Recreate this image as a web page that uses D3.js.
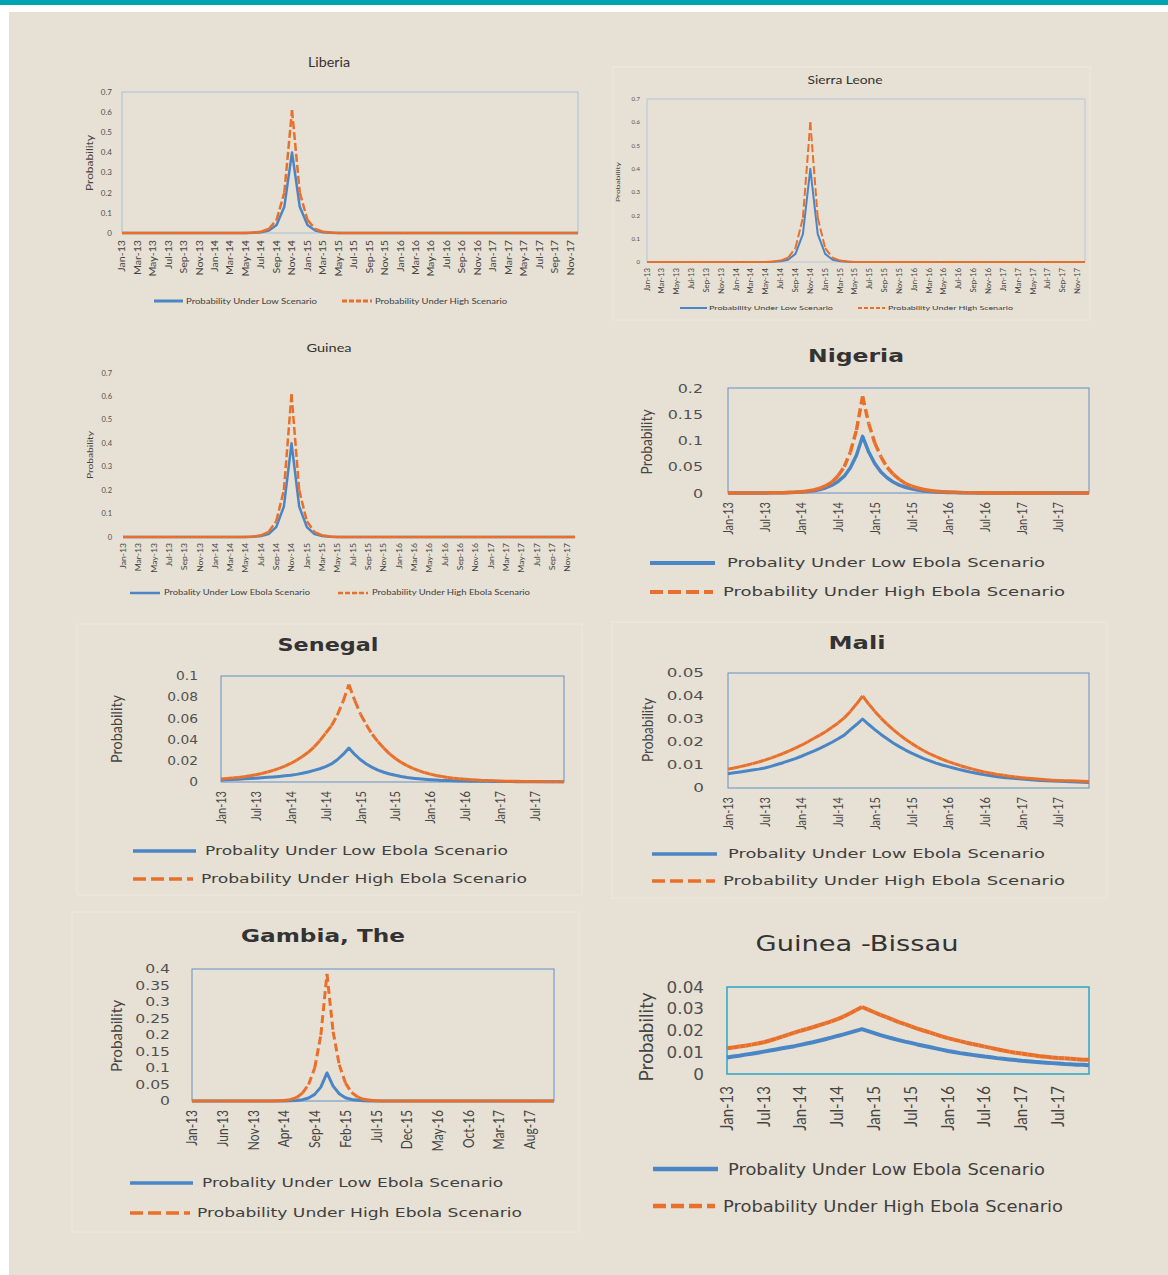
<!DOCTYPE html>
<html><head><meta charset="utf-8">
<script src="https://cdn.jsdelivr.net/npm/d3@7"></script>
<style>html,body{margin:0;padding:0;background:#fff;} svg{display:block}</style>
</head><body><svg id="chart" width="1168" height="1275"></svg>
<script>
// ---------- categories ----------
const months = [
 "Jan-13","Feb-13","Mar-13","Apr-13","May-13","Jun-13","Jul-13","Aug-13","Sep-13","Oct-13","Nov-13","Dec-13",
 "Jan-14","Feb-14","Mar-14","Apr-14","May-14","Jun-14","Jul-14","Aug-14","Sep-14","Oct-14","Nov-14","Dec-14",
 "Jan-15","Feb-15","Mar-15","Apr-15","May-15","Jun-15","Jul-15","Aug-15","Sep-15","Oct-15","Nov-15","Dec-15",
 "Jan-16","Feb-16","Mar-16","Apr-16","May-16","Jun-16","Jul-16","Aug-16","Sep-16","Oct-16","Nov-16","Dec-16",
 "Jan-17","Feb-17","Mar-17","Apr-17","May-17","Jun-17","Jul-17","Aug-17","Sep-17","Oct-17","Nov-17","Dec-17"];

// ---------- tick labels ----------
const ticksBiMonthly = ["Jan-13","Mar-13","May-13","Jul-13","Sep-13","Nov-13","Jan-14","Mar-14","May-14","Jul-14",
 "Sep-14","Nov-14","Jan-15","Mar-15","May-15","Jul-15","Sep-15","Nov-15","Jan-16","Mar-16","May-16","Jul-16",
 "Sep-16","Nov-16","Jan-17","Mar-17","May-17","Jul-17","Sep-17","Nov-17"];
const ticksHalfYear = ["Jan-13","Jul-13","Jan-14","Jul-14","Jan-15","Jul-15","Jan-16","Jul-16","Jan-17","Jul-17"];
const ticksFiveMonth = ["Jan-13","Jun-13","Nov-13","Apr-14","Sep-14","Feb-15","Jul-15","Dec-15","May-16","Oct-16","Mar-17","Aug-17"];

const yTicks07 = [0,0.1,0.2,0.3,0.4,0.5,0.6,0.7];
const yTicksNigeria = [0,0.05,0.1,0.15,0.2];
const yTicksSenegal = [0,0.02,0.04,0.06,0.08,0.1];
const yTicksMali = [0,0.01,0.02,0.03,0.04,0.05];
const yTicksGambia = [0,0.05,0.1,0.15,0.2,0.25,0.3,0.35,0.4];
const yTicksBissau = [0,0.01,0.02,0.03,0.04];

// ---------- series values ----------
const liberiaLow = [
 0,0,0,0,0,0,0,0,0,0,
 0,0,0,0,0,0,0,0.001,0.004,0.012,
 0.04,0.13,0.40,0.13,0.04,0.012,0.004,0.001,0,0,
 0,0,0,0,0,0,0,0,0,0,
 0,0,0,0,0,0,0,0,0,0,
 0,0,0,0,0,0,0,0,0,0];
const liberiaHigh = [
 0,0,0,0,0,0,0,0,0,0,
 0,0,0,0,0,0,0,0.002,0.006,0.02,
 0.065,0.2,0.61,0.2,0.065,0.02,0.006,0.002,0,0,
 0,0,0,0,0,0,0,0,0,0,
 0,0,0,0,0,0,0,0,0,0,
 0,0,0,0,0,0,0,0,0,0];
const sierraLow = [
 0,0,0,0,0,0,0,0,0,0,
 0,0,0,0,0,0,0,0.001,0.003,0.01,
 0.035,0.12,0.40,0.12,0.035,0.01,0.003,0.001,0,0,
 0,0,0,0,0,0,0,0,0,0,
 0,0,0,0,0,0,0,0,0,0,
 0,0,0,0,0,0,0,0,0,0];
const sierraHigh = [
 0,0,0,0,0,0,0,0,0,0,
 0,0,0,0,0,0,0,0.002,0.006,0.018,
 0.06,0.19,0.60,0.19,0.06,0.018,0.006,0.002,0,0,
 0,0,0,0,0,0,0,0,0,0,
 0,0,0,0,0,0,0,0,0,0,
 0,0,0,0,0,0,0,0,0,0];
const guineaLow = [
 0,0,0,0,0,0,0,0,0,0,
 0,0,0,0,0,0,0,0.001,0.004,0.013,
 0.042,0.13,0.40,0.13,0.042,0.013,0.004,0.001,0,0,
 0,0,0,0,0,0,0,0,0,0,
 0,0,0,0,0,0,0,0,0,0,
 0,0,0,0,0,0,0,0,0,0];
const guineaHigh = [
 0,0,0,0,0,0,0,0,0,0,
 0,0,0,0,0,0,0,0.002,0.007,0.021,
 0.067,0.2,0.61,0.2,0.067,0.021,0.007,0.002,0,0,
 0,0,0,0,0,0,0,0,0,0,
 0,0,0,0,0,0,0,0,0,0,
 0,0,0,0,0,0,0,0,0,0];
const nigeriaLow = [
 0,0,0.0001,0.0001,0.0001,0.0002,0.0002,0.0003,0.0004,0.0006,
 0.0009,0.0013,0.002,0.003,0.0044,0.0065,0.010,0.015,0.022,0.032,
 0.048,0.072,0.108,0.078,0.056,0.040,0.029,0.021,0.015,0.011,
 0.0078,0.0056,0.004,0.0029,0.0021,0.0015,0.0011,0.0008,0.0006,0.0004,
 0.0003,0.0002,0.0002,0.0001,0,0,0,0,0,0,
 0,0,0,0,0,0,0,0,0,0];
const nigeriaHigh = [
 0,0,0,0.0001,0.0001,0.0001,0.0002,0.0003,0.0005,0.0007,
 0.001,0.0016,0.0025,0.0038,0.006,0.009,0.014,0.021,0.033,0.05,
 0.078,0.12,0.184,0.132,0.095,0.069,0.049,0.036,0.026,0.018,
 0.013,0.0095,0.0068,0.0049,0.0035,0.0025,0.0018,0.0013,0.0009,0.0007,
 0.0005,0.0003,0.0002,0.0002,0.0001,0,0,0,0,0,
 0,0,0,0,0,0,0,0,0,0];
const senegalLow = [
 0.002,0.0022,0.0024,0.0027,0.003,0.0033,0.0036,0.004,0.0044,0.0048,
 0.0053,0.0058,0.0064,0.0072,0.0082,0.0095,0.011,0.0125,0.0145,0.017,
 0.021,0.026,0.032,0.026,0.021,0.017,0.0138,0.0112,0.0092,0.0076,
 0.0063,0.0052,0.0043,0.0036,0.003,0.0025,0.0021,0.0018,0.0015,0.0013,
 0.0011,0.001,0.0009,0.0008,0.0007,0.0006,0.0006,0.0005,0.0005,0.0004,
 0.0004,0.0003,0.0003,0.0003,0.0003,0.0002,0.0002,0.0002,0.0002,0.0002];
const senegalHigh = [
 0.0028,0.0032,0.0037,0.0043,0.005,0.0059,0.0069,0.008,0.0094,0.011,
 0.0128,0.015,0.0175,0.0205,0.024,0.028,0.033,0.039,0.046,0.053,
 0.063,0.076,0.092,0.077,0.064,0.054,0.045,0.038,0.032,0.0265,
 0.0222,0.0185,0.0155,0.0128,0.0107,0.0089,0.0074,0.0062,0.0052,0.0043,
 0.0036,0.003,0.0025,0.0021,0.0018,0.0015,0.0013,0.0011,0.0009,0.0008,
 0.0007,0.0006,0.0005,0.0005,0.0004,0.0004,0.0003,0.0003,0.0003,0.0002];
const maliLow = [
 0.0062,0.0066,0.007,0.0074,0.0078,0.0082,0.0087,0.0094,0.0102,0.011,
 0.0119,0.0128,0.0138,0.0149,0.016,0.0172,0.0185,0.0199,0.0214,0.023,
 0.0254,0.0276,0.030,0.0276,0.0254,0.0233,0.0214,0.0196,0.018,0.0165,
 0.0152,0.014,0.0128,0.0118,0.0108,0.01,0.0093,0.0086,0.0079,0.0073,
 0.0067,0.0062,0.0057,0.0053,0.0049,0.0046,0.0043,0.0041,0.0039,0.0037,
 0.0035,0.0033,0.0032,0.003,0.0029,0.0028,0.0027,0.0026,0.0025,0.0024];
const maliHigh = [
 0.0082,0.0087,0.0093,0.0099,0.0106,0.0113,0.0121,0.013,0.014,0.015,
 0.0161,0.0173,0.0186,0.02,0.0215,0.023,0.0246,0.0264,0.0283,0.0305,
 0.0333,0.0365,0.040,0.0365,0.0333,0.0304,0.0278,0.0254,0.0232,0.0212,
 0.0194,0.0177,0.0162,0.0148,0.0136,0.0125,0.0115,0.0106,0.0097,0.0089,
 0.0082,0.0075,0.0069,0.0064,0.0059,0.0055,0.0051,0.0048,0.0045,0.0042,
 0.004,0.0038,0.0036,0.0034,0.0033,0.0032,0.0031,0.003,0.0029,0.0028];
const gambiaLow = [
 0,0,0,0,0,0,0,0,0,0,
 0,0,0,0,0.0001,0.0002,0.0006,0.0015,0.004,0.009,
 0.02,0.042,0.085,0.045,0.022,0.01,0.0045,0.002,0.0008,0.0003,
 0.0001,0,0,0,0,0,0,0,0,0,
 0,0,0,0,0,0,0,0,0,0,
 0,0,0,0,0,0,0,0,0,0];
const gambiaHigh = [
 0,0,0,0,0,0,0,0,0,0,
 0,0,0,0.0002,0.0006,0.0015,0.004,0.01,0.024,0.05,
 0.1,0.2,0.385,0.21,0.11,0.055,0.026,0.012,0.005,0.002,
 0.0008,0.0003,0.0001,0,0,0,0,0,0,0,
 0,0,0,0,0,0,0,0,0,0,
 0,0,0,0,0,0,0,0,0,0];
const bissauLow = [
 0.0076,0.008,0.0084,0.0089,0.0093,0.0098,0.0103,0.0108,0.0113,0.0118,
 0.0123,0.0128,0.0134,0.014,0.0146,0.0153,0.016,0.0167,0.0175,0.0182,
 0.019,0.0198,0.0206,0.0197,0.0188,0.0179,0.0171,0.0163,0.0156,0.0149,
 0.0143,0.0136,0.013,0.0124,0.0118,0.0112,0.0106,0.0101,0.0096,0.0092,
 0.0088,0.0084,0.008,0.0077,0.0073,0.007,0.0067,0.0064,0.0061,0.0059,
 0.0056,0.0054,0.0052,0.005,0.0048,0.0046,0.0045,0.0043,0.0042,0.004];
const bissauHigh = [
 0.0118,0.0122,0.0126,0.013,0.0135,0.014,0.0146,0.0154,0.0163,0.0172,
 0.0181,0.019,0.0199,0.0207,0.0215,0.0224,0.0233,0.0242,0.0252,0.0264,
 0.0278,0.0293,0.0308,0.0296,0.0284,0.0272,0.0261,0.025,0.0239,0.0229,
 0.0219,0.0209,0.02,0.0191,0.0182,0.0173,0.0165,0.0158,0.0151,0.0144,
 0.0138,0.0132,0.0126,0.012,0.0114,0.0108,0.0103,0.0098,0.0094,0.009,
 0.0086,0.0082,0.0079,0.0076,0.0074,0.0072,0.007,0.0068,0.0066,0.0065];

const titles = ["Liberia","Sierra Leone","Guinea","Nigeria","Senegal","Mali","Gambia, The","Guinea -Bissau"];
const legendShortLow = "Probability Under Low Scenario";
const legendShortHigh = "Probability Under High Scenario";
const legendLow = "Probality Under Low Ebola Scenario";
const legendHigh = "Probability  Under High Ebola Scenario";
const yTitle = "Probability";

// ---------- styles / layout ----------
const FV = "'DejaVu Sans', Verdana, sans-serif";
const FC = "Lato, 'Open Sans', sans-serif";
const BLUE = "#4a86c6", ORANGE = "#e8702b";

const panels = [
 {title:titles[0], low:liberiaLow, high:liberiaHigh, yMax:0.7, yTicks:yTicks07, xTicks:ticksBiMonthly, lowLab:legendShortLow, highLab:legendShortHigh,
  L:{title:{x:329,y:67,size:12.5,fam:FC,len:42},
     plot:{x0:122,x1:578,y0:92,y1:233,frame:"#a8c0da",fw:1},
     ytick:{off:10,size:8,fam:FC,sx:1},
     ytitle:{x:90,y:163,size:8.5,len:56,fam:FC,sy:1.1},
     xlab:{off:7,size:8.5,fam:FC,sx:1.25,sy:1.1},
     lw:2.5, dash:"8,3",
     leg:{fam:FC,lw:3,dash:"5,2",items:[{y:301,l1:154,l2:183,tx:186,len:131,size:8},{y:301,l1:342,l2:372,tx:375,len:132,size:8}]}}},
 {title:titles[1], low:sierraLow, high:sierraHigh, yMax:0.7, yTicks:yTicks07, xTicks:ticksBiMonthly, lowLab:legendShortLow, highLab:legendShortHigh,
  L:{title:{x:845,y:84,size:10.5,fam:FC,len:75},
     border:{x:613,y:67,w:477,h:253},
     plot:{x0:647,x1:1085,y0:99,y1:262,frame:"#b3c6dc",fw:1},
     ytick:{off:7,size:6,fam:FC,sx:1},
     ytitle:{x:618,y:182,size:6.5,len:40,fam:FC,sy:1},
     xlab:{off:6,size:6.5,fam:FC,sx:1.2,sy:1.1},
     lw:2, dash:"8,3",
     leg:{fam:FC,lw:2,dash:"4,2",items:[{y:308,l1:680,l2:707,tx:709,len:124,size:6.5},{y:308,l1:858,l2:885,tx:888,len:125,size:6.5}]}}},
 {title:titles[2], low:guineaLow, high:guineaHigh, yMax:0.7, yTicks:yTicks07, xTicks:ticksBiMonthly, lowLab:legendLow, highLab:legendHigh,
  L:{title:{x:329,y:352,size:12,fam:FC,len:45},
     plot:{x0:123,x1:575,y0:373,y1:537,frame:null},
     ytick:{off:11,size:7.5,fam:FC,sx:1},
     ytitle:{x:90,y:455,size:8,len:48,fam:FC,sy:1},
     xlab:{off:6,size:7.5,fam:FC,sx:1.15,sy:1.1},
     lw:2.5, dash:"8,3",
     leg:{fam:FC,lw:2.5,dash:"5,2",items:[{y:593,l1:130,l2:160,tx:164,len:146,size:7},{y:593,l1:338,l2:368,tx:372,len:158,size:7}]}}},
 {title:titles[3], low:nigeriaLow, high:nigeriaHigh, yMax:0.2, yTicks:yTicksNigeria, xTicks:ticksHalfYear, lowLab:legendLow, highLab:legendHigh,
  L:{title:{x:856,y:362,size:18,fam:FV,len:96,weight:"bold"},
     plot:{x0:728,x1:1089,y0:388,y1:493,frame:"#6290c8",fw:1},
     ytick:{off:25,size:13,fam:FV,sx:1.22},
     ytitle:{x:646,y:442,size:13,len:65,fam:FC,sy:1.25},
     xlab:{off:9,size:11,fam:FC,sx:1,sy:1.3},
     lw:3.5, dash:"9,4",
     leg:{fam:FV,lw:4,dash:"13,5",items:[{y:563,l1:650,l2:715,tx:727,len:318,size:12.5},{y:592,l1:650,l2:713,tx:723,len:342,size:12.5}]}}},
 {title:titles[4], low:senegalLow, high:senegalHigh, yMax:0.1, yTicks:yTicksSenegal, xTicks:ticksHalfYear, lowLab:legendLow, highLab:legendHigh,
  L:{title:{x:328,y:651,size:18,fam:FV,len:101,weight:"bold"},
     border:{x:77,y:624,w:505,h:271},
     plot:{x0:221,x1:564,y0:676,y1:782,frame:"#6290c8",fw:1},
     ytick:{off:23,size:12,fam:FV,sx:1.15},
     ytitle:{x:116,y:729,size:13,len:68,fam:FC,sy:1.25},
     xlab:{off:9,size:11,fam:FC,sx:1,sy:1.3},
     lw:3, dash:"9,4",
     leg:{fam:FV,lw:3.5,dash:"13,5",items:[{y:851,l1:133,l2:196,tx:205,len:303,size:12.5},{y:879,l1:133,l2:193,tx:201,len:326,size:12.5}]}}},
 {title:titles[5], low:maliLow, high:maliHigh, yMax:0.05, yTicks:yTicksMali, xTicks:ticksHalfYear, lowLab:legendLow, highLab:legendHigh,
  L:{title:{x:857,y:649,size:18,fam:FV,len:57,weight:"bold"},
     border:{x:612,y:622,w:495,h:276},
     plot:{x0:728,x1:1089,y0:673,y1:788,frame:"#6290c8",fw:1},
     ytick:{off:24,size:12,fam:FV,sx:1.4},
     ytitle:{x:647,y:730,size:13,len:64,fam:FC,sy:1.25},
     xlab:{off:9,size:11,fam:FC,sx:1,sy:1.3},
     lw:3, dash:"11,3",
     leg:{fam:FV,lw:3.5,dash:"13,5",items:[{y:854,l1:652,l2:717,tx:728,len:317,size:12.5},{y:881,l1:652,l2:715,tx:723,len:342,size:12.5}]}}},
 {title:titles[6], low:gambiaLow, high:gambiaHigh, yMax:0.4, yTicks:yTicksGambia, xTicks:ticksFiveMonth, lowLab:legendLow, highLab:legendHigh,
  L:{title:{x:323,y:942,size:18,fam:FV,len:164,weight:"bold"},
     border:{x:72,y:912,w:507,h:320},
     plot:{x0:192,x1:554,y0:969,y1:1101,frame:"#6290c8",fw:1},
     ytick:{off:22,size:12,fam:FV,sx:1.3},
     ytitle:{x:116,y:1036,size:13,len:72,fam:FC,sy:1.25},
     xlab:{off:9,size:12,fam:FC,sx:1,sy:1.3},
     lw:3, dash:"8,4",
     leg:{fam:FV,lw:3.5,dash:"13,5",items:[{y:1183,l1:130,l2:193,tx:202,len:301,size:12.5},{y:1213,l1:130,l2:190,tx:197,len:325,size:12.5}]}}},
 {title:titles[7], low:bissauLow, high:bissauHigh, yMax:0.04, yTicks:yTicksBissau, xTicks:ticksHalfYear, lowLab:legendLow, highLab:legendHigh,
  L:{title:{x:857,y:951,size:22,fam:FV,len:203,weight:"normal"},
     plot:{x0:727,x1:1089,y0:987,y1:1074,frame:"#2aa7c9",fw:1.5},
     ytick:{off:23,size:16,fam:FV,sx:1.05},
     ytitle:{x:646,y:1037,size:17,len:89,fam:FC,sy:1.1},
     xlab:{off:12,size:15,fam:FC,sx:1,sy:1.1},
     lw:4, dash:"10,4",
     leg:{fam:FV,lw:4.5,dash:"13,5",items:[{y:1169,l1:653,l2:718,tx:728,len:317,size:16},{y:1206,l1:653,l2:715,tx:723,len:340,size:16}]}}}
];

// ---------- drawing ----------
const svg = d3.select("#chart");
svg.append("rect").attr("x",0).attr("y",0).attr("width",1168).attr("height",1275).attr("fill","#ffffff");
svg.append("rect").attr("x",0).attr("y",0).attr("width",1168).attr("height",5).attr("fill","#00a3b2");
svg.append("rect").attr("x",9).attr("y",12).attr("width",1159).attr("height",1263).attr("fill","#e7e0d4");

function txt(g, s, x, y, o) {
  let tr = `translate(${x},${y})`;
  if (o.rot) tr += ` rotate(${o.rot})`;
  const sx = o.sx || 1, sy = o.sy || 1;
  if (sx !== 1 || sy !== 1) tr += ` scale(${sx},${sy})`;
  const t = g.append("text").attr("transform", tr)
    .attr("font-family", o.fam || FV).attr("font-size", o.size)
    .attr("fill", o.fill || "#404040").attr("text-anchor", o.anchor || "start")
    .attr("font-weight", o.weight || "normal").text(s);
  if (o.dy) t.attr("dy", o.dy);
  if (o.len) t.attr("textLength", o.len / sx).attr("lengthAdjust", "spacingAndGlyphs");
  return t;
}

panels.forEach(p => {
  const L = p.L, P = L.plot;
  const g = svg.append("g");
  if (L.border) g.append("rect").attr("x",L.border.x).attr("y",L.border.y).attr("width",L.border.w).attr("height",L.border.h)
      .attr("fill","none").attr("stroke","#ede7dd").attr("stroke-width",1);

  const x = d3.scalePoint().domain(months).range([P.x0, P.x1]).padding(0);
  const y = d3.scaleLinear().domain([0, p.yMax]).range([P.y1, P.y0]);

  // title
  txt(g, p.title, L.title.x, L.title.y, {size:L.title.size, fam:L.title.fam, anchor:"middle", len:L.title.len, weight:L.title.weight, fill:"#333"});

  // frame
  if (P.frame) g.append("rect").attr("x",P.x0).attr("y",P.y0).attr("width",P.x1-P.x0).attr("height",P.y1-P.y0)
      .attr("fill","none").attr("stroke",P.frame).attr("stroke-width",P.fw);

  // y tick labels
  p.yTicks.forEach(v => {
    txt(g, String(v), P.x0 - L.ytick.off, y(v), {size:L.ytick.size, fam:L.ytick.fam, anchor:"end", dy:"0.35em", sx:L.ytick.sx, fill:"#505050"});
  });
  // y title
  txt(g, yTitle, L.ytitle.x, L.ytitle.y, {size:L.ytitle.size, fam:L.ytitle.fam, anchor:"middle", rot:-90, dy:"0.35em", len:L.ytitle.len, sy:L.ytitle.sy, fill:"#454545"});

  // x labels
  p.xTicks.forEach(m => {
    txt(g, m, x(m), P.y1 + L.xlab.off, {size:L.xlab.size, fam:L.xlab.fam, anchor:"end", rot:-90, dy:"0.35em", sx:L.xlab.sx, sy:L.xlab.sy, fill:"#454545"});
  });

  const line = d3.line().x(d => x(months[d[0]])).y(d => y(d[1]));
  // low series (solid)
  g.append("path").attr("d", line(p.low.map((v,i)=>[i,v]))).attr("fill","none")
    .attr("stroke",BLUE).attr("stroke-width",L.lw).attr("stroke-linejoin","round");
  // high series (dashed, pattern restarting per segment)
  for (let i = 0; i < p.high.length - 1; i++) {
    g.append("path").attr("d", line([[i,p.high[i]],[i+1,p.high[i+1]]])).attr("fill","none")
      .attr("stroke",ORANGE).attr("stroke-width",L.lw).attr("stroke-dasharray",L.dash);
  }

  // legend
  const lg = L.leg;
  const labs = [p.lowLab, p.highLab], cols = [BLUE, ORANGE];
  lg.items.forEach((it, k) => {
    const ln = g.append("line").attr("x1",it.l1).attr("x2",it.l2).attr("y1",it.y).attr("y2",it.y)
      .attr("stroke",cols[k]).attr("stroke-width",lg.lw);
    if (k === 1) ln.attr("stroke-dasharray", lg.dash);
    txt(g, labs[k], it.tx, it.y, {size:it.size, fam:lg.fam, dy:"0.35em", len:it.len, fill:"#404040"});
  });
});
</script>
</body></html>
